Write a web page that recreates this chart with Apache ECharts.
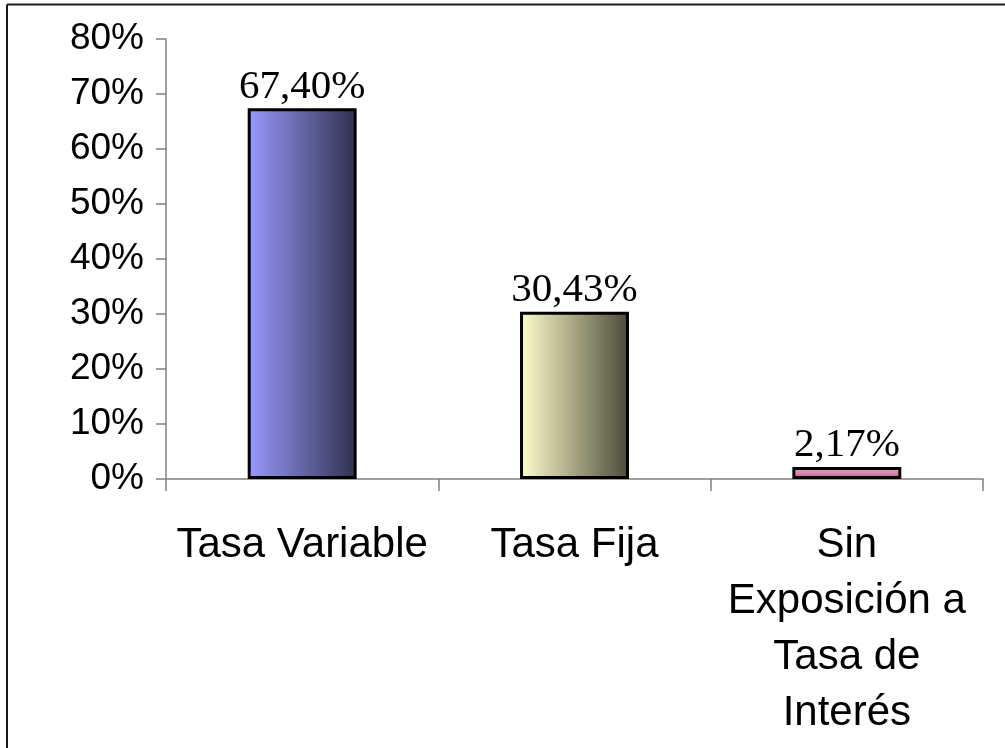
<!DOCTYPE html>
<html>
<head>
<meta charset="utf-8">
<style>
  html, body { margin: 0; padding: 0; background: #ffffff; }
  #chart { width: 1005px; height: 748px; }
</style>
<script src="https://cdn.jsdelivr.net/npm/echarts@6/dist/echarts.min.js"></script>
</head>
<body>
<div id="chart"></div>
<script>
// Categories and shares (in percent)
const categories = ['Tasa Variable', 'Tasa Fija', 'Sin\nExposición a\nTasa de\nInterés'];
const shares = [67.40, 30.43, 2.17];
const yTicks = [0, 10, 20, 30, 40, 50, 60, 70, 80];

// Fill of each bar: [start, end] of the gradient
const barFills = [
  { dir: 'h', stops: ['#9a9aff', '#30304f'] },
  { dir: 'h', stops: ['#ffffcc', '#4a4a3a'] },
  { dir: 'v', stops: ['#ea9cc6', '#a4507f'] }
];

const chart = echarts.init(document.getElementById('chart'), null, { renderer: 'canvas' });

const fmtPct = v => v.toFixed(2).replace('.', ',') + '%';

const barData = shares.map((v, i) => {
  const f = barFills[i];
  const grad = f.dir === 'h'
    ? new echarts.graphic.LinearGradient(0, 0, 1, 0, [
        { offset: 0, color: f.stops[0] }, { offset: 1, color: f.stops[1] }])
    : new echarts.graphic.LinearGradient(0, 0, 0, 1, [
        { offset: 0, color: f.stops[0] }, { offset: 0.55, color: '#d884b2' }, { offset: 1, color: f.stops[1] }]);
  return { value: v, itemStyle: { color: grad } };
});

chart.setOption({
  animation: false,
  backgroundColor: '#ffffff',
  grid: { left: 166, right: 22, top: 39, bottom: 269, containLabel: false },
  xAxis: {
    type: 'category',
    data: categories,
    boundaryGap: true,
    axisLine: { lineStyle: { color: '#808080', width: 1.5 } },
    axisTick: { show: true, length: 12, alignWithLabel: false, lineStyle: { color: '#808080', width: 1.5 } },
    axisLabel: {
      interval: 0,
      margin: 38,
      color: '#000000',
      fontFamily: 'Liberation Sans, Arial, sans-serif',
      fontSize: 42,
      lineHeight: 56,
      align: 'center'
    }
  },
  yAxis: {
    type: 'value',
    min: yTicks[0],
    max: yTicks[yTicks.length - 1],
    interval: yTicks[1] - yTicks[0],
    splitLine: { show: false },
    axisLine: { show: true, lineStyle: { color: '#808080', width: 1.5 } },
    axisTick: { show: true, length: 10, lineStyle: { color: '#808080', width: 1.5 } },
    axisLabel: {
      margin: 22,
      color: '#000000',
      fontFamily: 'Liberation Sans, Arial, sans-serif',
      fontSize: 37,
      formatter: '{value}%'
    }
  },
  series: [{
    type: 'bar',
    data: barData,
    barWidth: '40%',
    itemStyle: { borderColor: '#000000', borderWidth: 3 },
    label: {
      show: true,
      position: 'top',
      distance: 1,
      color: '#000000',
      fontFamily: 'Liberation Serif, Times New Roman, serif',
      fontSize: 41,
      formatter: p => fmtPct(p.value)
    }
  }],
  graphic: [
    { type: 'line', shape: { x1: 7, y1: 4.5, x2: 1005, y2: 4.5 }, style: { stroke: '#1a1a1a', lineWidth: 2 } },
    { type: 'line', shape: { x1: 7, y1: 4.5, x2: 7, y2: 748 }, style: { stroke: '#1a1a1a', lineWidth: 2 } }
  ]
});
</script>
</body>
</html>
